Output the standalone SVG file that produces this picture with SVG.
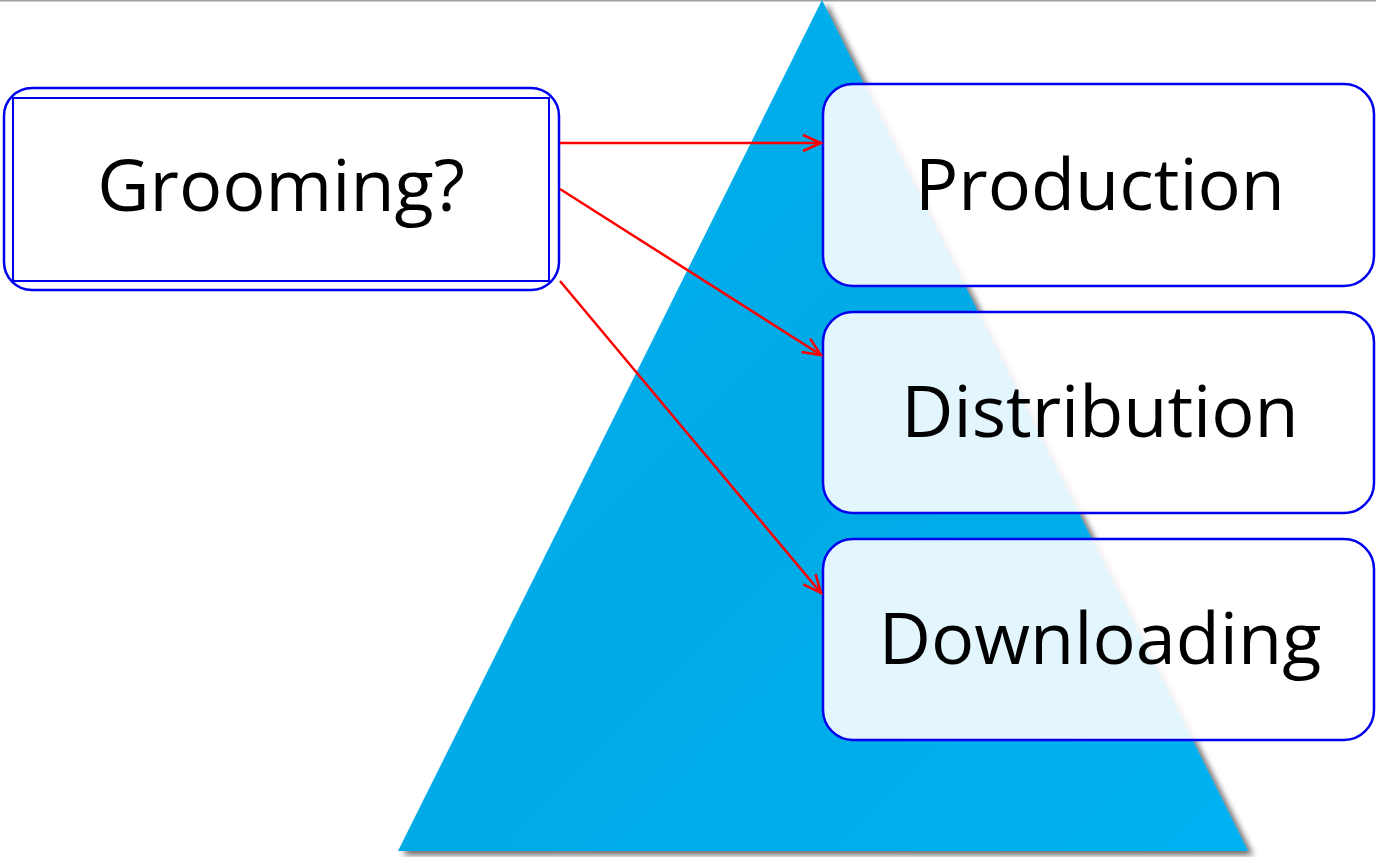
<svg xmlns="http://www.w3.org/2000/svg" width="1376" height="857" viewBox="0 0 1376 857">
<style>
.box{fill:#ffffff;fill-opacity:0.89;stroke:#0000ee;stroke-width:2.5}
.lbl{font-family:"Open Sans","Liberation Sans",sans-serif;font-size:72px;fill:#000;text-anchor:middle}
.conn{stroke:#ff0000;stroke-width:2.5;fill:none;marker-end:url(#arr)}
</style>
<defs>
<marker id="arr" markerWidth="24" markerHeight="20" refX="21" refY="10" orient="auto" markerUnits="userSpaceOnUse">
<path d="M3,2 L21,10 L3,18" fill="none" stroke="#ff0000" stroke-width="2.5"/>
</marker>
<filter id="sh" x="-10%" y="-10%" width="125%" height="125%">
<feGaussianBlur in="SourceAlpha" stdDeviation="3"/>
<feOffset dx="5" dy="4"/>
<feComponentTransfer><feFuncA type="linear" slope="0.6"/></feComponentTransfer>
<feMerge><feMergeNode/><feMergeNode in="SourceGraphic"/></feMerge>
</filter>
<linearGradient id="tg" x1="0" y1="0" x2="1" y2="1">
<stop offset="0" stop-color="#00B0F0"/>
<stop offset="0.5" stop-color="#04AAE6"/>
<stop offset="1" stop-color="#00B2F2"/>
</linearGradient>
</defs>
<rect x="0" y="0" width="1376" height="857" fill="#ffffff"/>
<line x1="0" y1="0.5" x2="1376" y2="0.5" stroke="#a0a0a0" stroke-width="2"/>
<g id="pyramid">
<polygon points="822,0 1248,851 398,851" fill="url(#tg)" filter="url(#sh)"/>
</g>
<g id="grooming">
<rect class="box" x="4" y="88" width="555" height="202" rx="28" ry="28" fill-opacity="1"/>
<rect x="13" y="98" width="536" height="183" fill="none" stroke="#0000ee" stroke-width="2"/>
<text class="lbl" x="281" y="211">Grooming?</text>
</g>
<g id="production">
<rect class="box" x="823" y="84" width="551" height="202" rx="30" ry="30"/>
<text class="lbl" x="1100" y="210">Production</text>
</g>
<g id="distribution">
<rect class="box" x="823" y="312" width="551" height="201" rx="30" ry="30"/>
<text class="lbl" x="1100" y="437">Distribution</text>
</g>
<g id="downloading">
<rect class="box" x="823" y="539" width="551" height="201" rx="30" ry="30"/>
<text class="lbl" x="1100" y="664">Downloading</text>
</g>
<g id="connectors">
<line class="conn" x1="560" y1="143" x2="821" y2="143"/>
<line class="conn" x1="560" y1="189" x2="821" y2="355"/>
<line class="conn" x1="560" y1="281" x2="821" y2="593"/>
</g>
</svg>
